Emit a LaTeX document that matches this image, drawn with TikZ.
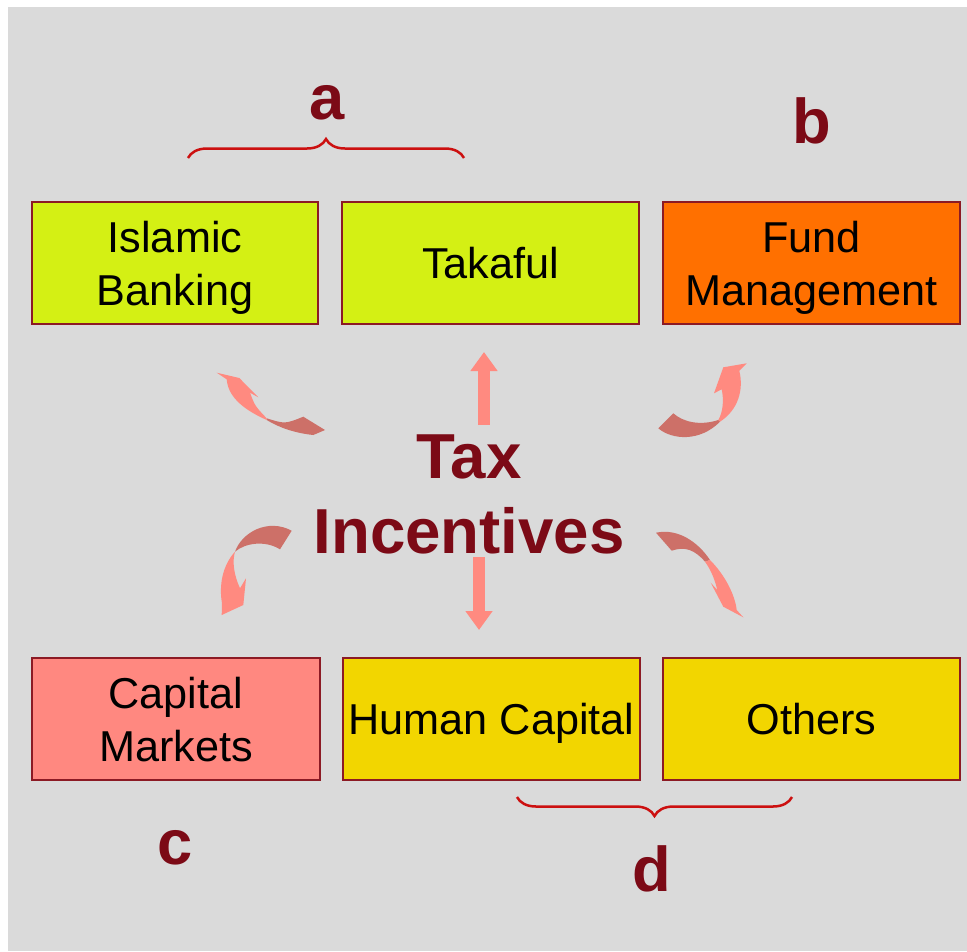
\documentclass[tikz,border=0pt]{standalone}
\usepackage{fontspec}
\setmainfont{Liberation Sans}
\usetikzlibrary{arrows.meta}
\usetikzlibrary{decorations.pathreplacing}

\definecolor{bggray}{RGB}{218,218,218}
\definecolor{boxline}{RGB}{140,26,36}
\definecolor{lime}{RGB}{212,240,20}
\definecolor{orangebox}{RGB}{255,112,0}
\definecolor{salmon}{RGB}{255,136,128}
\definecolor{gold}{RGB}{242,214,0}
\definecolor{maroon}{RGB}{124,10,22}
\definecolor{bracered}{RGB}{204,16,16}
\definecolor{arrowlight}{RGB}{255,138,128}
\definecolor{arrowdark}{RGB}{205,112,104}

\tikzset{
  sector/.style={draw=boxline, line width=0.04cm, minimum width=5.94cm,
    minimum height=2.44cm, inner sep=0pt, text depth=0pt, align=center,
    font=\fontsize{24.6}{30.2}\selectfont},
  letter/.style={text=maroon, font=\fontsize{36}{40}\selectfont\bfseries},
  grouping/.style={draw=bracered, line width=0.05cm, decorate,
    decoration={brace, amplitude=0.38cm}},
  fatarrow/.style={draw=arrowlight, line width=0.24cm,
    -{Triangle[width=0.52cm, length=0.38cm]}}
}

\begin{document}
\begin{tikzpicture}[x=0.02cm, y=-0.02cm]
    \useasboundingbox (0, 0) rectangle (967, 951);
    \fill[bggray](8, 7)rectangle(967, 951);

    % the six sectors
    \node[sector, fill=lime, minimum width=5.72cm] (banking) at (175, 263) {Islamic\\Banking};
    \node[sector, fill=lime] (takaful) at (490.5, 263) {Takaful};
    \node[sector, fill=orangebox] (fund) at (811.5, 263) {Fund\\Management};
    \node[sector, fill=salmon, minimum width=5.76cm] (capital) at (176, 719) {Capital\\Markets};
    \node[sector, fill=gold] (human) at (491.5, 719) {Human Capital};
    \node[sector, fill=gold] (others) at (811.5, 719) {Others};

    \node[text=maroon, align=center, font=\fontsize{36.2}{42.7}\selectfont\bfseries]
        (tax) at (469, 494) {Tax\\Incentives};

    % group labels
    \node[letter] (la) at (327, 103) {a};
    \node[letter] (lb) at (812, 121) {b};
    \node[letter] (lc) at (175, 848) {c};
    \node[letter] (ld) at (652, 869) {d};
    \draw[grouping](188, 158)--(464, 158);
    \draw[grouping](792, 797)--(517, 797);

    % straight arrows
    \coordinate (upfoot) at (484, 425);
    \coordinate (uptip) at (484, 352);
    \coordinate (downfoot) at (479, 557);
    \coordinate (downtip) at (479, 630);
    \draw[fatarrow](upfoot)--(uptip);
    \draw[fatarrow](downfoot)--(downtip);

    % curved arrows, upper left
    \fill[arrowdark](266.7, 418.3) .. controls (285, 424) .. (303.3, 416.7) -- (325, 430)
        -- (313.3, 435) .. controls (295, 433) and (280, 428) .. (266.7, 420) -- cycle;
    \fill[arrowlight](216.7, 372.7) -- (239.3, 378) -- (258.3, 397.3) -- (250, 392.7)
        .. controls (255, 406) .. (266.7, 418.3) -- (266.7, 420)
        .. controls (240, 408) and (228, 395) .. (226.7, 379.3) -- cycle;
    % upper right
    \fill[arrowdark](718.3, 420) .. controls (700, 426) and (683, 422) .. (673.3, 413.3)
        -- (658.3, 428.3) .. controls (672, 440) and (700, 442) .. (720, 421.7) -- cycle;
    \fill[arrowlight](746.7, 363.3) -- (723.3, 367.3) -- (714, 393.3) -- (721.7, 389.3)
        .. controls (724, 400) and (723, 412) .. (718.3, 420) -- (720, 421.7)
        .. controls (738, 410) and (744, 390) .. (739.3, 370.7) -- cycle;
    % lower left
    \fill[arrowdark](235, 551.7) .. controls (242, 532) and (268, 518) .. (291.7, 530.7)
        -- (280, 549.3) .. controls (265, 540) and (245, 543) .. (235, 551.7) -- cycle;
    \fill[arrowlight](221.7, 615) -- (243.3, 605) -- (246, 578.3) -- (240, 588.3)
        .. controls (234, 575) and (232, 562) .. (235, 551.7)
        .. controls (222, 566) and (219, 586) .. (222, 603.3) -- cycle;
    % lower right
    \fill[arrowdark](656, 532.7) .. controls (678, 528) and (698, 542) .. (710, 560)
        -- (705, 561.7) .. controls (695, 550) and (685, 546) .. (671.7, 550.7) -- cycle;
    \fill[arrowlight](710, 560) .. controls (725, 575) and (735, 595) .. (736.7, 610)
        -- (743.3, 617.3) -- (723.3, 606.7) -- (710.7, 582.7) -- (717.3, 590)
        .. controls (715, 580) and (711, 570) .. (705, 561.7) -- cycle;
\end{tikzpicture}
\end{document}
